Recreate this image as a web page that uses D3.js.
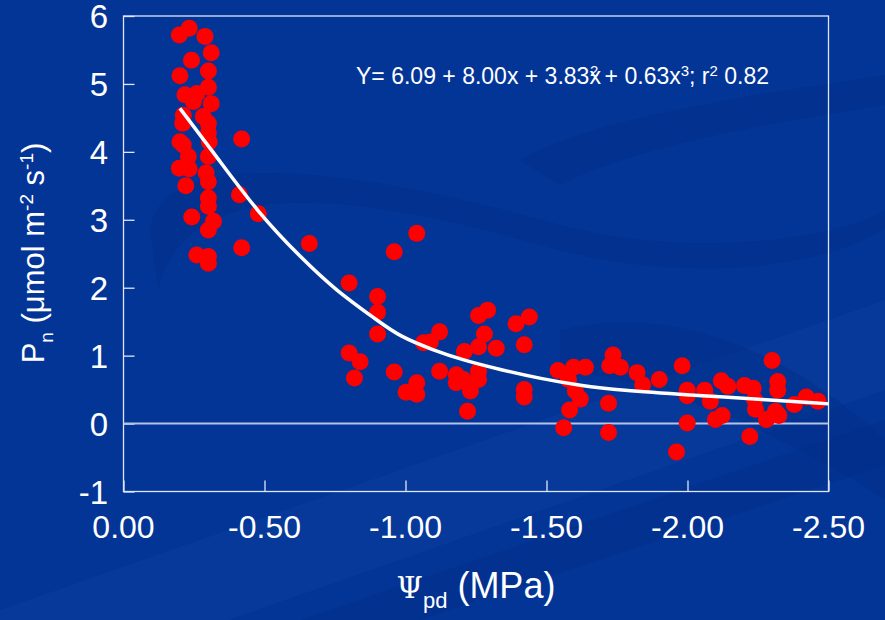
<!DOCTYPE html>
<html>
<head>
<meta charset="utf-8">
<script src="https://cdn.jsdelivr.net/npm/d3@7"></script>
<style>
  body { margin: 0; background: #033597; }
  svg { display: block; font-family: "Liberation Sans", Arial, sans-serif; }
</style>
</head>
<body>
<svg id="chart" width="885" height="620"></svg>
<script>
// observed points (water potential MPa, net photosynthesis)
var psiPd = [
  -0.233, -0.198, -0.289, -0.311, -0.241, -0.200, -0.301, -0.301, -0.218, -0.260,
  -0.248, -0.311, -0.212, -0.210, -0.283, -0.301, -0.301, -0.304, -0.200, -0.212,
  -0.419, -0.230, -0.301, -0.198, -0.233, -0.293, -0.301, -0.221, -0.411, -0.301,
  -0.301, -0.478, -0.242, -0.319, -0.301, -0.419, -0.260, -0.301, -0.301,
  -0.659, -1.040, -0.960, -0.800, -0.901, -0.901, -0.901, -0.800, -0.839, -0.819,
  -0.960, -1.040, -1.002, -1.040, -1.064, -1.088, -1.121, -1.121, -1.180, -1.180,
  -1.206, -1.230, -1.220, -1.259, -1.291, -1.280, -1.259, -1.209, -1.322, -1.259,
  -1.259, -1.392, -1.439, -1.421, -1.421, -1.421, -1.541, -1.596, -1.638, -1.578,
  -1.602, -1.620, -1.582, -1.561, -1.736, -1.724, -1.762, -1.720, -1.720, -1.821,
  -1.841, -1.900, -1.981, -1.999, -1.999, -1.999, -1.961, -2.061, -2.081, -2.120,
  -2.143, -2.099, -2.123, -2.202, -2.233, -2.238, -2.241, -2.221, -2.280, -2.300,
  -2.320, -2.320, -2.312, -2.324, -2.379, -2.421, -2.463
];
var pn = [
  5.82, 5.72, 5.70, 5.46, 5.35, 5.12, 5.19, 4.95, 4.84, 4.86,
  4.74, 4.71, 4.54, 4.42, 4.52, 4.42, 4.28, 4.15, 4.15, 4.10,
  4.19, 3.93, 3.93, 3.76, 3.75, 3.69, 3.56, 3.50, 3.37, 3.32,
  3.20, 3.09, 3.04, 2.98, 2.85, 2.59, 2.48, 2.46, 2.36,
  2.65, 2.80, 2.53, 2.07, 1.87, 1.64, 1.32, 1.04, 0.91, 0.67,
  0.76, 0.60, 0.46, 0.43, 1.19, 1.20, 1.35, 0.77, 0.72, 0.60,
  0.65, 0.48, 0.18, 1.59, 1.67, 1.32, 1.13, 1.06, 1.11, 0.77,
  0.65, 1.47, 1.57, 1.16, 0.50, 0.39, 0.78, 0.83, 0.83, 0.65,
  0.48, 0.36, 0.20, -0.06, 1.01, 0.85, 0.83, 0.30, -0.13, 0.75,
  0.57, 0.65, 0.85, 0.49, 0.41, 0.01, -0.42, 0.49, 0.33, 0.63,
  0.55, 0.06, 0.12, 0.56, 0.52, 0.35, 0.21, -0.19, 0.06, 0.93,
  0.62, 0.49, 0.18, 0.12, 0.28, 0.39, 0.33
];

// regression line as drawn
var fitX = [-0.20, -0.33, -0.48, -0.63, -0.75, -0.90, -0.98, -1.10, -1.20, -1.34, -1.48, -1.62, -1.76, -2.01, -2.25, -2.50];
var fitY = [4.64, 3.93, 3.09, 2.44, 1.97, 1.52, 1.28, 1.08, 0.94, 0.79, 0.66, 0.56, 0.49, 0.42, 0.36, 0.29];

var xTicks = [0, -0.5, -1.0, -1.5, -2.0, -2.5];
var yTicks = [-1, 0, 1, 2, 3, 4, 5, 6];

var svg = d3.select("#chart");
var width = 885, height = 620;
var plotLeft = 123.5, plotRight = 828.5, plotTop = 16, plotBottom = 491.5;

// background swooshes
var bg = svg.append("g");
bg.append("rect").attr("width", width).attr("height", height).attr("fill", "#033597");
bg.append("path")
  .attr("d", "M0,610 L885,300 L885,390 L0,700 Z")
  .attr("fill", "#0a3d9e").attr("opacity", 0.5);
bg.append("path")
  .attr("d", "M150,230 C160,150 330,160 560,225 C700,262 850,235 885,210 L885,228 C820,270 680,285 540,245 C330,185 185,180 158,290 Z")
  .attr("fill", "#022c86").attr("opacity", 0.45);
bg.append("path")
  .attr("d", "M520,160 C600,115 760,95 885,75 L885,105 C760,125 640,145 560,185 Z")
  .attr("fill", "#022c86").attr("opacity", 0.45);
bg.append("path")
  .attr("d", "M560,330 C680,300 800,360 885,440 L885,500 C780,430 640,375 560,370 Z")
  .attr("fill", "#022c86").attr("opacity", 0.4);
bg.append("path")
  .attr("d", "M300,620 L885,420 L885,465 L420,620 Z")
  .attr("fill", "#022c86").attr("opacity", 0.4);

var x = d3.scaleLinear().domain([0, -2.5]).range([plotLeft, plotRight]);
var y = d3.scaleLinear().domain([-1, 6]).range([plotBottom, plotTop]);

var frameColor = "#dfe6f5";

// frame
svg.append("rect")
  .attr("x", plotLeft).attr("y", plotTop)
  .attr("width", plotRight - plotLeft).attr("height", plotBottom - plotTop)
  .attr("fill", "none").attr("stroke", frameColor).attr("stroke-width", 1.3);

// inward ticks
var yAxis = d3.axisRight(y).tickValues(yTicks).tickSize(11).tickFormat("");
svg.append("g").attr("transform", "translate(" + plotLeft + ",0)").call(yAxis)
  .call(function(g) { g.select(".domain").remove(); })
  .selectAll("line").attr("stroke", frameColor).attr("stroke-width", 1.3);

var xAxis = d3.axisTop(x).tickValues(xTicks).tickSize(11).tickFormat("");
svg.append("g").attr("transform", "translate(0," + plotBottom + ")").call(xAxis)
  .call(function(g) { g.select(".domain").remove(); })
  .selectAll("line").attr("stroke", frameColor).attr("stroke-width", 1.3);

// zero line
svg.append("line")
  .attr("x1", plotLeft).attr("x2", plotRight)
  .attr("y1", y(0)).attr("y2", y(0))
  .attr("stroke", "#b4c3e6").attr("stroke-width", 2);

// tick labels
svg.append("g").selectAll("text").data(yTicks).enter().append("text")
  .attr("x", 108).attr("y", function(d) { return y(d) + 12; })
  .attr("text-anchor", "end").attr("fill", "white").attr("font-size", 33)
  .text(function(d) { return d; });

svg.append("g").selectAll("text").data(xTicks).enter().append("text")
  .attr("x", function(d) { return x(d); }).attr("y", 538)
  .attr("text-anchor", "middle").attr("fill", "white").attr("font-size", 32)
  .text(function(d) { return d3.format(".2f")(d).replace("\u2212", "-"); });

// points
svg.append("g").selectAll("circle").data(d3.range(psiPd.length)).enter().append("circle")
  .attr("cx", function(i) { return x(psiPd[i]); })
  .attr("cy", function(i) { return y(pn[i]); })
  .attr("r", 8.5)
  .attr("fill", "#ff0000");

// fitted curve
var line = d3.line()
  .x(function(i) { return x(fitX[i]); })
  .y(function(i) { return y(fitY[i]); })
  .curve(d3.curveBasis);
svg.append("path").datum(d3.range(fitX.length))
  .attr("d", line).attr("fill", "none")
  .attr("stroke", "white").attr("stroke-width", 3.5);

// equation
var eq = svg.append("text").attr("x", 356).attr("y", 84)
  .attr("fill", "white").attr("font-size", 23);
eq.append("tspan").text("Y= 6.09 + 8.00x + 3.83x");
eq.append("tspan").attr("dx", -11).attr("dy", -8).attr("font-size", 15).text("2");
eq.append("tspan").attr("dy", 8).text(" + 0.63x");
eq.append("tspan").attr("dy", -8).attr("font-size", 15).text("3");
eq.append("tspan").attr("dy", 8).text("; r");
eq.append("tspan").attr("dy", -8).attr("font-size", 15).text("2");
eq.append("tspan").attr("dy", 8).text(" 0.82");

// x title
var xt = svg.append("text").attr("x", 476).attr("y", 598)
  .attr("text-anchor", "middle").attr("fill", "white").attr("font-size", 36);
xt.append("tspan").attr("font-family", "DejaVu Serif, serif").attr("font-size", 30).text("\u03A8");
xt.append("tspan").attr("dy", 10).attr("font-size", 22).text("pd");
xt.append("tspan").attr("dy", -10).text(" (MPa)");

// y title
var yt = svg.append("text")
  .attr("transform", "translate(44,253) rotate(-90)")
  .attr("text-anchor", "middle").attr("fill", "white").attr("font-size", 31);
yt.append("tspan").text("P");
yt.append("tspan").attr("dy", 9).attr("font-size", 19).text("n");
yt.append("tspan").attr("dy", -9).text(" (\u03BCmol m");
yt.append("tspan").attr("dy", -11).attr("font-size", 19).text("-2");
yt.append("tspan").attr("dy", 11).text(" s");
yt.append("tspan").attr("dy", -11).attr("font-size", 19).text("-1");
yt.append("tspan").attr("dy", 11).text(")");
</script>
</body>
</html>
